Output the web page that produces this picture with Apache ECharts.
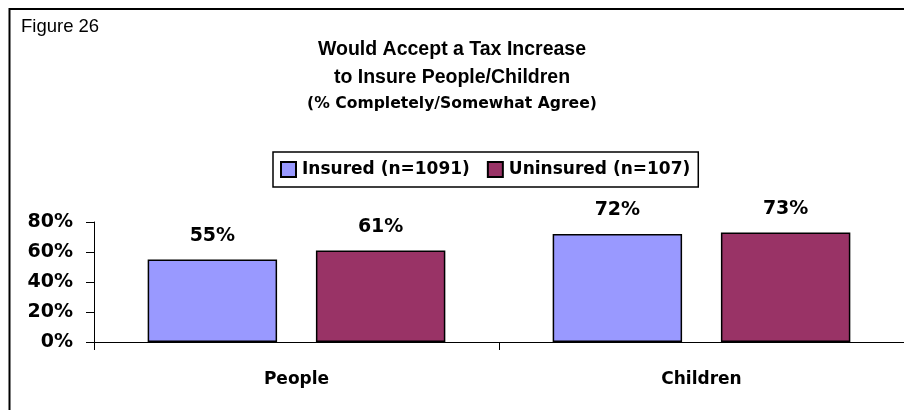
<!DOCTYPE html>
<html>
<head>
<meta charset="utf-8">
<script src="https://cdn.jsdelivr.net/npm/echarts@6/dist/echarts.min.js"></script>
<style>
html,body{margin:0;padding:0;background:#fff;}
#chart{width:904px;height:410px;}
</style>
</head>
<body>
<div id="chart"></div>
<script>
var categories = ['People', 'Children'];
var seriesNames = ['Insured (n=1091)', 'Uninsured (n=107)'];
var insured = [55, 72];
var uninsured = [61, 73];
var yTicks = [0, 20, 40, 60, 80];

var chart = echarts.init(document.getElementById('chart'), null, {renderer: 'canvas'});
var numFont = '"DejaVu Sans", sans-serif';
var txtFont = '"Liberation Sans", Arial, sans-serif';

var option = {
  animation: false,
  backgroundColor: '#ffffff',
  title: [
    {
      text: 'Would Accept a Tax Increase\nto Insure People/Children',
      left: 'center', top: 30,
      textStyle: {fontFamily: txtFont, fontWeight: 'bold', fontSize: 19.5, lineHeight: 28.5, color: '#000'}
    },
    {
      text: '(% Completely/Somewhat Agree)',
      left: 'center', top: 91,
      textStyle: {fontFamily: numFont, fontWeight: 'bold', fontSize: 15.6, color: '#000'}
    }
  ],
  graphic: [
    {type: 'rect', shape: {x: 9.5, y: 9, width: 1000, height: 1000}, style: {fill: 'none', stroke: '#000', lineWidth: 2}, silent: true},
    {type: 'text', left: 21, top: 17, style: {text: 'Figure 26', font: '18.5px "Liberation Sans", Arial, sans-serif', fill: '#000'}}
  ],
  legend: {
    left: 273, top: 152,
    padding: [9, 8, 9, 7],
    borderColor: '#000', borderWidth: 1.5,
    itemWidth: 15, itemHeight: 15, itemGap: 17,
    icon: 'rect',
    textStyle: {fontFamily: numFont, fontWeight: 'bold', fontSize: 17, color: '#000', padding: [0, 0, 0, 1]},
    data: seriesNames
  },
  grid: {left: 94, right: -4, top: 222, bottom: 68, containLabel: false},
  xAxis: {
    type: 'category', data: categories,
    axisLine: {lineStyle: {color: '#000', width: 1}},
    axisTick: {show: true, length: 8, alignWithLabel: false, lineStyle: {color: '#000'}},
    axisLabel: {margin: 29, fontFamily: numFont, fontWeight: 'bold', fontSize: 17, color: '#000'}
  },
  yAxis: {
    type: 'value', min: yTicks[0], max: yTicks[yTicks.length - 1], interval: 20,
    axisLine: {show: true, lineStyle: {color: '#000', width: 1}},
    axisTick: {show: true, length: 8, lineStyle: {color: '#000'}},
    splitLine: {show: false},
    axisLabel: {margin: 21, fontFamily: numFont, fontWeight: 'bold', fontSize: 19, color: '#000', formatter: '{value}%'}
  },
  series: [
    {
      name: seriesNames[0], type: 'bar', data: insured,
      barGap: '30%', barCategoryGap: '26.5%',
      itemStyle: {color: '#9999FF', borderColor: '#000', borderWidth: 1.5},
      label: {show: true, position: 'top', distance: 14, formatter: '{c}%', fontFamily: numFont, fontWeight: 'bold', fontSize: 19, color: '#000'}
    },
    {
      name: seriesNames[1], type: 'bar', data: uninsured,
      barGap: '30%', barCategoryGap: '26.5%',
      itemStyle: {color: '#993366', borderColor: '#000', borderWidth: 1.5},
      label: {show: true, position: 'top', distance: 14, formatter: '{c}%', fontFamily: numFont, fontWeight: 'bold', fontSize: 19, color: '#000'}
    }
  ]
};
chart.setOption(option);
</script>
</body>
</html>
